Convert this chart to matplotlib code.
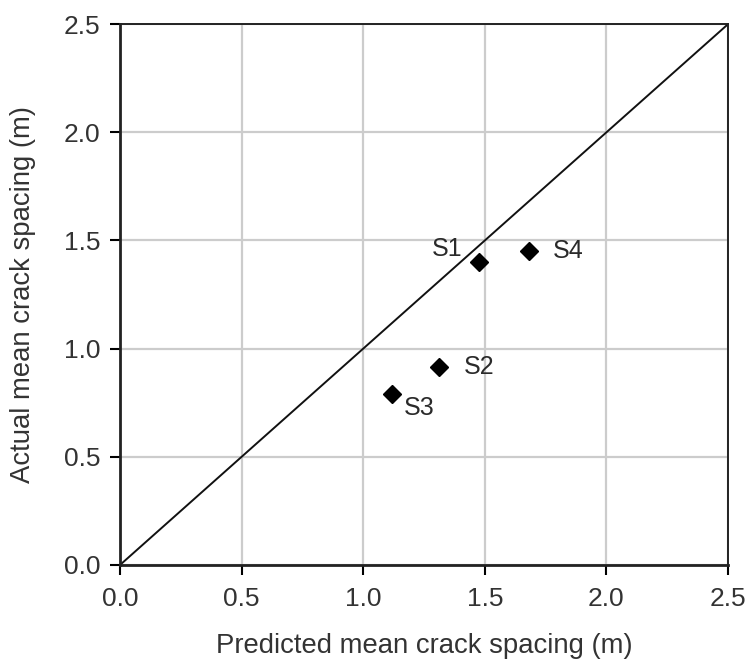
import matplotlib.pyplot as plt

plt.rcParams['font.family'] = ['Liberation Sans', 'DejaVu Sans']

# data
names = ["S1", "S2", "S3", "S4"]
predicted = [1.476, 1.31, 1.12, 1.68]
actual = [1.40, 0.915, 0.79, 1.45]
label_offsets = [(-32, 13), (41, 0), (27, -14), (40, 0)]  # pixels
ticks = [0.0, 0.5, 1.0, 1.5, 2.0, 2.5]

fig = plt.figure(figsize=(7.48, 6.71), dpi=100)
ax = fig.add_axes([0.1604, 0.158, 0.8129, 0.806])

ax.plot([0, 2.5], [0, 2.5], color="#111111", lw=1.4, zorder=2)
ax.plot(predicted, actual, "D", color="black", ms=9, zorder=3)
for n, x, y, off in zip(names, predicted, actual, label_offsets):
    ax.annotate(n, (x, y), xytext=off, textcoords="offset pixels",
                ha="center", va="center", fontsize=18, color="#2a2a2a")

ax.set_xlim(0, 2.5)
ax.set_ylim(0, 2.5)
ax.set_xticks(ticks)
ax.set_yticks(ticks)
ax.set_xticklabels([f"{t:.1f}" for t in ticks])
ax.set_yticklabels([f"{t:.1f}" for t in ticks])
ax.tick_params(direction="out", length=7, width=1.5, labelsize=19,
               labelcolor="#333333")
ax.tick_params(axis="x", pad=9)
ax.tick_params(axis="y", pad=7)
ax.grid(True, color="#cccccc", lw=1.6, zorder=0)
ax.set_axisbelow(True)
for s in ax.spines.values():
    s.set_linewidth(1.4)
    s.set_color("#222222")
ax.spines["left"].set_linewidth(2)
ax.spines["bottom"].set_linewidth(2)

ax.set_xlabel("Predicted mean crack spacing (m)", fontsize=19.8, color="#333333")
ax.set_ylabel("Actual mean crack spacing (m)", fontsize=19.8, color="#333333")
ax.xaxis.set_label_coords(0.5, -0.125)
ax.yaxis.set_label_coords(-0.138, 0.5)

fig.savefig("out.png", dpi=100)
